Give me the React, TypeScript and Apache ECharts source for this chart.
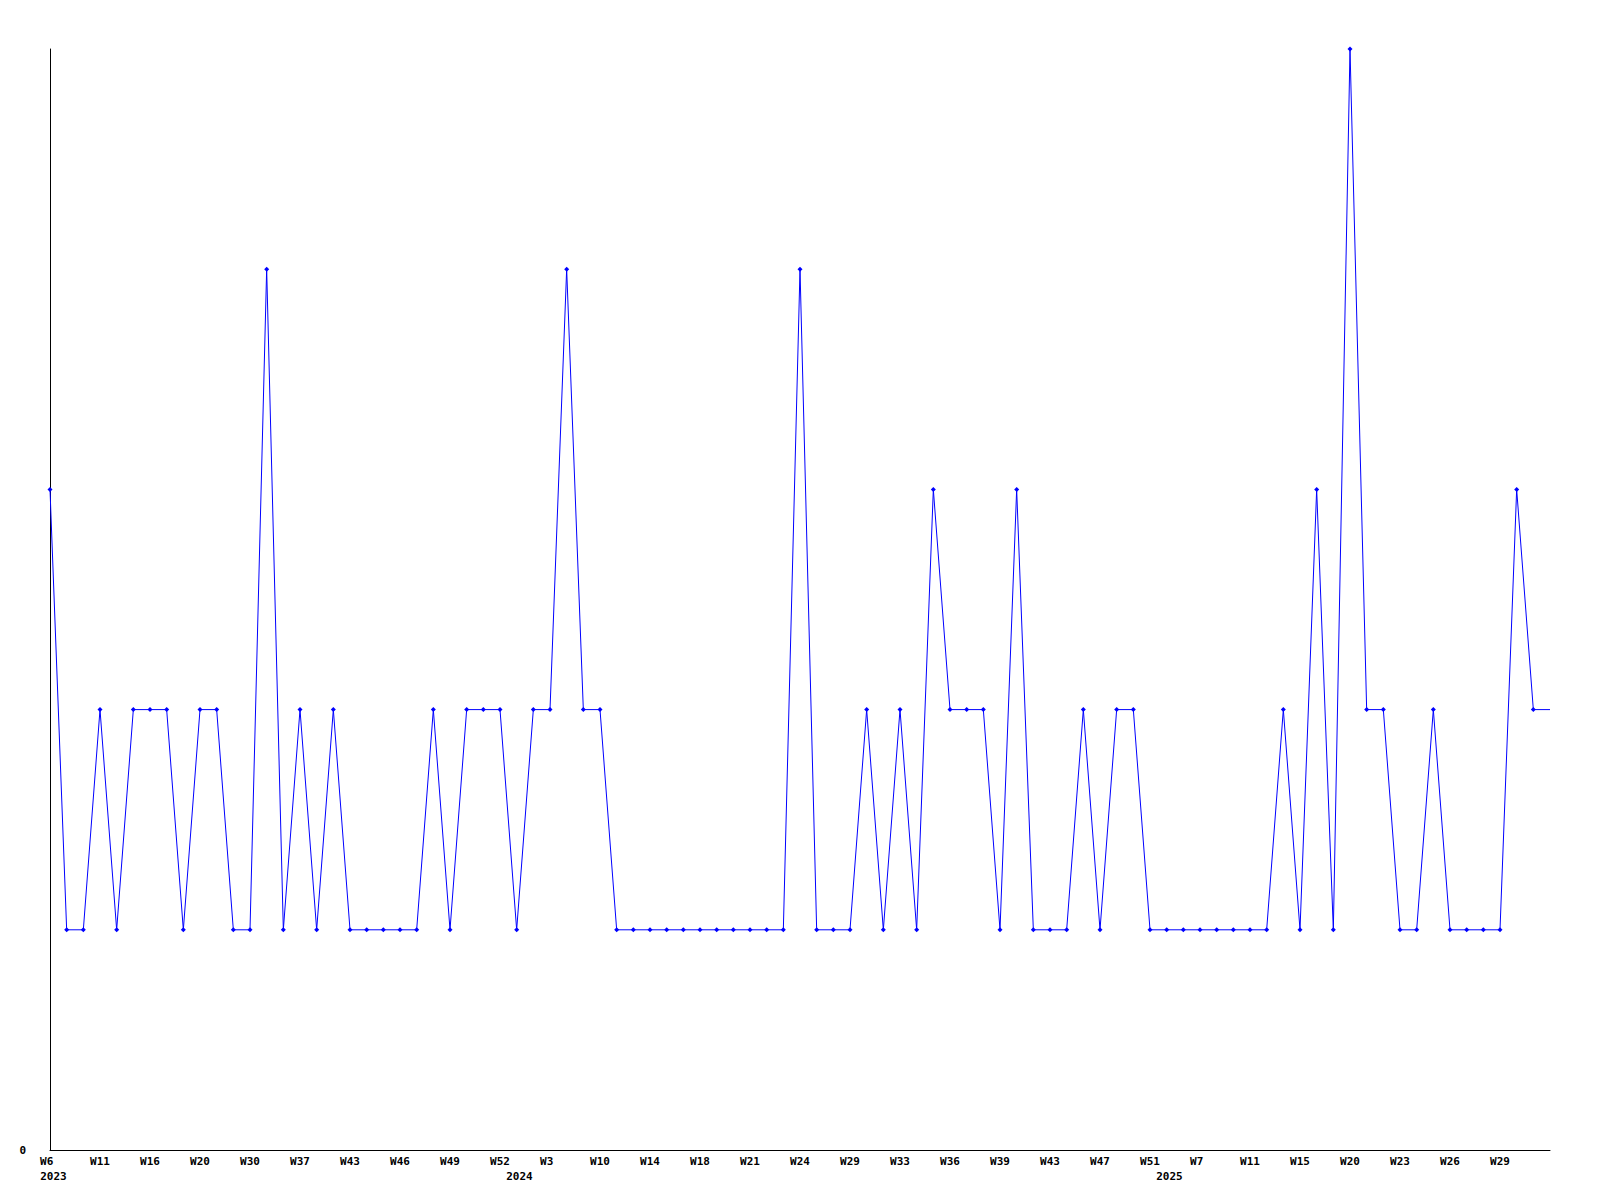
import React, { useEffect, useRef } from "react";
import * as echarts from "echarts";

// Weekly values (one per category); the last one is the unmarked tail point
const values: number[] = [
  3, 1, 1, 2, 1, 2, 2, 2, 1, 2,
  2, 1, 1, 4, 1, 2, 1, 2, 1, 1,
  1, 1, 1, 2, 1, 2, 2, 2, 1, 2,
  2, 4, 2, 2, 1, 1, 1, 1, 1, 1,
  1, 1, 1, 1, 1, 4, 1, 1, 1, 2,
  1, 2, 1, 3, 2, 2, 2, 1, 3, 1,
  1, 1, 2, 1, 2, 2, 1, 1, 1, 1,
  1, 1, 1, 1, 2, 1, 3, 1, 5, 2,
  2, 1, 1, 2, 1, 1, 1, 1, 3, 2,
  2,
];

// Tick labels shown on every third category
const tickLabels: string[] = [
  "W6", "W11", "W16", "W20", "W30", "W37", "W43", "W46", "W49", "W52",
  "W3", "W10", "W14", "W18", "W21", "W24", "W29", "W33", "W36", "W39",
  "W43", "W47", "W51", "W7", "W11", "W15", "W20", "W23", "W26", "W29",
];

// Year labels and the (fractional) category position where each is drawn
const years: string[] = ["2023", "2024", "2025"];
const yearPositions: number[] = [0.21, 28.17, 67.17];

const categories: string[] = values.map((_, i) => String(i));

const FONT = "'DejaVu Sans Mono', monospace";

export default function App() {
  const ref = useRef<HTMLDivElement>(null);

  useEffect(() => {
    if (!ref.current) return;
    const chart = echarts.init(ref.current, null, { renderer: "svg" });
    const last = values.length - 1;
    chart.setOption({
      animation: false,
      backgroundColor: "#ffffff",
      grid: { left: 50, right: 50, top: 49, bottom: 50, containLabel: false },
      xAxis: [
        {
          type: "category",
          data: categories,
          boundaryGap: false,
          axisLine: { show: true, lineStyle: { color: "#000", width: 1 } },
          axisTick: { show: false },
          splitLine: { show: false },
          axisLabel: {
            interval: 2,
            margin: 6,
            color: "#000",
            fontFamily: FONT,
            fontWeight: "bold",
            fontSize: 11,
            formatter: (_v: string, i: number) => {
              const t = tickLabels[i / 3];
              if (t === undefined) return "";
              return t.length < 3 ? t + "\u00a0" : t;
            },
          },
        },
        {
          type: "value",
          min: 0,
          max: last,
          position: "bottom",
          offset: 15,
          axisLine: { show: false },
          axisTick: { show: false },
          splitLine: { show: false },
          axisLabel: {
            customValues: yearPositions,
            margin: 6,
            color: "#000",
            fontFamily: FONT,
            fontWeight: "bold",
            fontSize: 11,
            formatter: (v: number) => {
              const k = yearPositions.indexOf(v);
              return k >= 0 ? years[k] : "";
            },
          },
        },
      ],
      yAxis: {
        type: "value",
        min: 0,
        max: 5,
        interval: 5,
        axisLine: { show: true, lineStyle: { color: "#000", width: 1 } },
        axisTick: { show: false },
        splitLine: { show: false },
        axisLabel: {
          margin: 24,
          color: "#000",
          fontFamily: FONT,
          fontWeight: "bold",
          fontSize: 11,
          formatter: (v: number) => (v === 0 ? "0" : ""),
        },
      },
      series: [
        {
          type: "line",
          xAxisIndex: 0,
          data: values.map((v, i) =>
            i === last ? { value: v, symbol: "none" } : v
          ),
          symbol: "diamond",
          symbolSize: 5,
          showSymbol: true,
          showAllSymbol: true,
          lineStyle: { color: "#0000ff", width: 1 },
          itemStyle: { color: "#0000ff" },
          clip: false,
        },
      ],
    });
    return () => chart.dispose();
  }, []);

  return (
    <div
      ref={ref}
      style={{ position: "fixed", left: 0, top: 0, width: 1600, height: 1200 }}
    />
  );
}
